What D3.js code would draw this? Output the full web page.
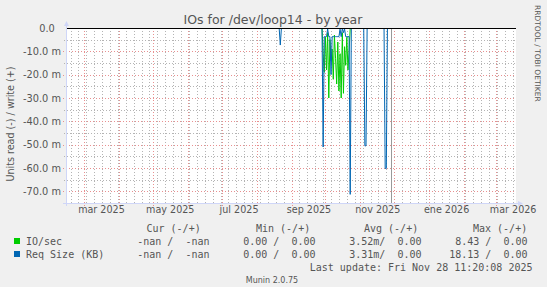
<!DOCTYPE html>
<html>
<head>
<meta charset="utf-8">
<script src="https://cdn.jsdelivr.net/npm/d3@7"></script>
<style>
    html, body { margin: 0; padding: 0; background: #f0f0f0; }
    svg { display: block; }
    text { font-family: 'DejaVu Sans', sans-serif; fill: #555; }
    .mono { font-family: 'DejaVu Sans Mono', monospace; white-space: pre; font-size: 10px; }
</style>
</head>
<body>
<svg id="chart"></svg>
<script>
// Chart data (in milli units)
const xDomain = ['2025-02-13', '2026-03-19'];
const lastUpdate = '2025-11-28';

const yTicks = [0, -10, -20, -30, -40, -50, -60, -70];
const yTickLabels = ['0.0\u00a0\u00a0', '-10.0 m', '-20.0 m', '-30.0 m', '-40.0 m', '-50.0 m', '-60.0 m', '-70.0 m'];
const yMinorTicks = [-5, -15, -25, -35, -45, -55, -65];

const xTickDates = ['2025-03-16', '2025-05-16', '2025-07-16', '2025-09-16', '2025-11-16', '2026-01-16', '2026-03-16'];
const xTickLabels = ['mar 2025', 'may 2025', 'jul 2025', 'sep 2025', 'nov 2025', 'ene 2026', 'mar 2026'];

// IO/sec read, one value per day from ioStart
const ioStart = '2025-09-28';
const ioRead = [0, 11, 19, 4, 18, 2, 30, 5, 14, 9, 22, 3, 13, 24, 6, 27, 11, 30, 2, 28, 8, 16, 4, 18, 10, 0];

// Req size read, daily values in a few short runs
const reqStarts = ['2025-08-21', '2025-09-28', '2025-11-04', '2025-11-22'];
const reqRead = [
    [0, 7.3, 0],
    [0, 51, 3.7, 3.7, 3.7, 0.4, 3.7, 3.7, 20, 3.7, 3.7, 3.7, 3.7, 3.7, 3.7, 3.7, 0.5, 3.7, 0.2, 2, 0.4, 3.7, 3.7, 3.7, 3.7, 71.3, 0],
    [0, 50.5, 50.5, 0],
    [0, 60.2, 60.2, 0]
];

const legendNames = ['IO/sec', 'Req Size (KB)'];
const legendColors = ['#00cc00', '#0066b3'];
const legendHeaders = ['Cur (-/+)', 'Min (-/+)', 'Avg (-/+)', 'Max (-/+)'];
const legendCur = ['-nan /  -nan', '-nan /  -nan'];
const legendMin = ['0.00 /  0.00', '0.00 /  0.00'];
const legendAvg = ['3.52m/  0.00', '3.31m/  0.00'];
const legendMax = ['8.43 /  0.00', '18.13 /  0.00'];

const W = 547, H = 287;
const plot = { left: 66, right: 516, top: 28, bottom: 203 };
const parse = d3.timeParse('%Y-%m-%d');
const px = v => Math.round(v) + 0.5;

const svg = d3.select('#chart').attr('width', W).attr('height', H);
svg.append('rect').attr('width', W).attr('height', H).attr('fill', '#f0f0f0');

const x = d3.scaleTime().domain(xDomain.map(parse)).range([plot.left, plot.right]);
const y = d3.scaleLinear().domain([-75, 0]).range([plot.bottom, plot.top]);

// canvas
svg.append('rect')
    .attr('x', plot.left).attr('y', plot.top)
    .attr('width', plot.right - plot.left).attr('height', plot.bottom - plot.top)
    .attr('fill', '#ffffff');

// grid, drawn as dotted 1px lines
const months = x.ticks(d3.timeMonth.every(1));
const mondays = x.ticks(d3.timeMonday.every(1));
console.log('grid', months.length, mondays.length);

function vLines(cls, data, y2, color) {
    svg.append('g').attr('class', cls).selectAll('line')
        .data(data).enter().append('line')
        .attr('x1', d => px(x(d))).attr('x2', d => px(x(d)))
        .attr('y1', plot.top).attr('y2', y2)
        .attr('stroke', color).attr('stroke-width', 1)
        .attr('stroke-dasharray', '1,2');
}

function hLines(cls, data, x1, color) {
    svg.append('g').attr('class', cls).selectAll('line')
        .data(data).enter().append('line')
        .attr('x1', x1).attr('x2', plot.right)
        .attr('y1', d => px(y(d))).attr('y2', d => px(y(d)))
        .attr('stroke', color).attr('stroke-width', 1)
        .attr('stroke-dasharray', '1,2');
}

vLines('vminor', mondays, plot.bottom + 2, '#b4b4b4');
hLines('hminor', yMinorTicks, plot.left - 2, '#b4b4b4');
vLines('vmajor', months, plot.bottom + 3, '#e89090');
hLines('hmajor', yTicks.slice(1), plot.left - 3, '#e89090');

// axes text
const yAxis = d3.axisLeft(y).tickValues(yTicks).tickSize(0).tickPadding(0)
    .tickFormat((d, i) => yTickLabels[i]);
svg.append('g').attr('transform', `translate(${plot.left - 5},0)`).call(yAxis)
    .call(g => g.select('.domain').remove())
    .selectAll('text')
    .attr('font-family', 'DejaVu Sans').attr('font-size', 9.8).attr('fill', '#555')
    .style('white-space', 'pre');

const xAxis = d3.axisBottom(x).tickValues(xTickDates.map(parse)).tickSize(0).tickPadding(0)
    .tickFormat((d, i) => xTickLabels[i]);
svg.append('g').attr('transform', `translate(0,${plot.bottom + 3})`).call(xAxis)
    .call(g => g.select('.domain').remove())
    .selectAll('text')
    .attr('font-family', 'DejaVu Sans').attr('font-size', 9.6).attr('fill', '#555');

// data lines
const line = d3.line().x(d => x(d.date)).y(d => y(-d.value));

const ioData = ioRead.map((v, i) => ({ date: d3.timeDay.offset(parse(ioStart), i), value: v }));
svg.append('path').datum(ioData)
    .attr('d', line).attr('fill', 'none')
    .attr('stroke', legendColors[0]).attr('stroke-width', 1);

reqStarts.forEach((start, k) => {
    const run = reqRead[k].map((v, i) => ({ date: d3.timeDay.offset(parse(start), i), value: v }));
    svg.append('path').datum(run)
        .attr('d', line).attr('fill', 'none')
        .attr('stroke', legendColors[1]).attr('stroke-width', 1);
});

// now line and zero rule
svg.append('line')
    .attr('x1', px(x(parse(lastUpdate)))).attr('x2', px(x(parse(lastUpdate))))
    .attr('y1', plot.top).attr('y2', plot.bottom)
    .attr('stroke', '#999');
svg.append('line')
    .attr('x1', plot.left).attr('x2', plot.right)
    .attr('y1', px(y(0))).attr('y2', px(y(0)))
    .attr('stroke', '#000');

// axis lines with arrows
const axisColor = '#cfd6f8';
svg.append('line')
    .attr('x1', plot.left - 3).attr('x2', plot.right + 3)
    .attr('y1', px(plot.bottom)).attr('y2', px(plot.bottom))
    .attr('stroke', axisColor);
svg.append('line')
    .attr('x1', px(plot.left)).attr('x2', px(plot.left))
    .attr('y1', plot.bottom + 3).attr('y2', plot.top - 3)
    .attr('stroke', axisColor);
svg.append('path')
    .attr('d', `M${plot.right + 2},${plot.bottom - 2} L${plot.right + 7},${plot.bottom + 0.5} L${plot.right + 2},${plot.bottom + 3} Z`)
    .attr('fill', axisColor);
svg.append('path')
    .attr('d', `M${plot.left - 2},${plot.top - 2} L${plot.left + 0.5},${plot.top - 7} L${plot.left + 3},${plot.top - 2} Z`)
    .attr('fill', axisColor);

// titles
svg.append('text')
    .attr('x', 273).attr('y', 24)
    .attr('text-anchor', 'middle').attr('font-size', 12.5)
    .text('IOs for /dev/loop14 - by year');

svg.append('text')
    .attr('transform', 'translate(14,124) rotate(-90)')
    .attr('text-anchor', 'middle').attr('font-size', 9.6)
    .text('Units read (-) / write (+)');

svg.append('text')
    .attr('transform', 'translate(535,5) rotate(90)')
    .attr('text-anchor', 'start').attr('font-size', 7.5).attr('fill', '#b8b8b8')
    .text('RRDTOOL / TOBI OETIKER');

// legend
const legend = svg.append('g');
const headerX = [146.5, 256, 364, 473];
const valueX = [209.5, 315.5, 421.5, 527.5];
legend.selectAll('.hdr').data(legendHeaders).enter().append('text')
    .attr('class', 'mono').attr('x', (d, i) => headerX[i]).attr('y', 232)
    .text(d => d);

legendNames.forEach((name, i) => {
    const yy = 245 + i * 13;
    legend.append('rect')
        .attr('x', 14).attr('y', yy - 7).attr('width', 6).attr('height', 6)
        .attr('fill', legendColors[i]);
    legend.append('text').attr('class', 'mono').attr('x', 26).attr('y', yy).text(name);
    [legendCur, legendMin, legendAvg, legendMax].forEach((col, j) => {
        legend.append('text').attr('class', 'mono')
            .attr('x', valueX[j]).attr('y', yy).attr('text-anchor', 'end')
            .text(col[i]);
    });
});

legend.append('text').attr('class', 'mono')
    .attr('x', 532.5).attr('y', 271).attr('text-anchor', 'end')
    .text('Last update: Fri Nov 28 11:20:08 2025');

svg.append('text')
    .attr('x', 272).attr('y', 282.5).attr('text-anchor', 'middle')
    .attr('font-size', 8).attr('fill', '#c0c0c0')
    .text('Munin 2.0.75');
</script>
</body>
</html>
